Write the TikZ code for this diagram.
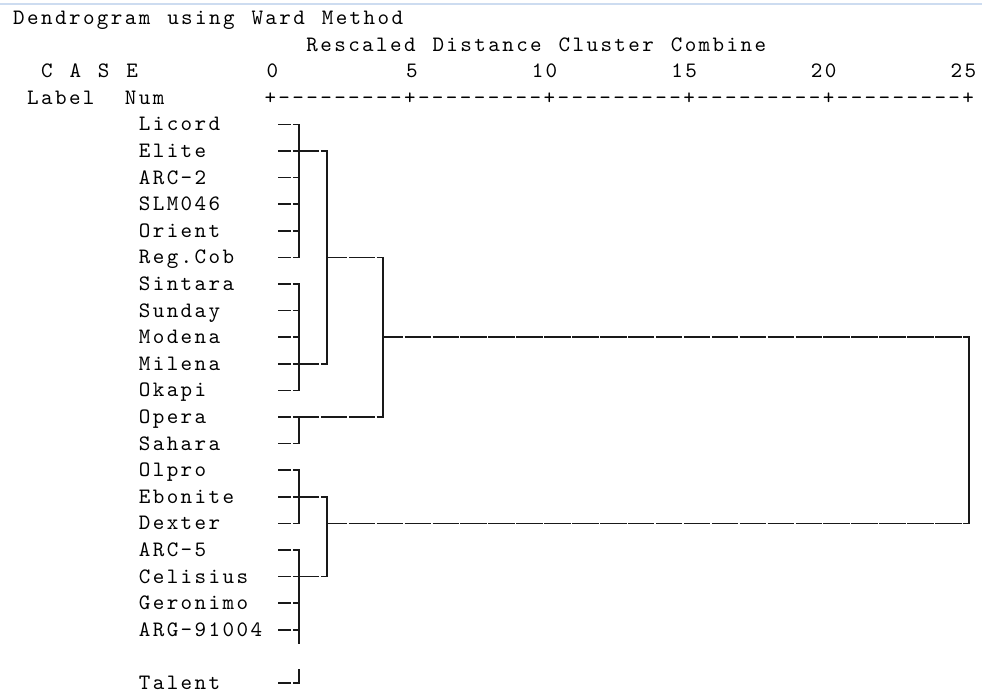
\documentclass[tikz,border=0pt]{standalone}
\usepackage{fontspec}
\newfontfamily\spssfont{lmmono10-regular.otf}[LetterSpace=10.95,WordSpace=1.2087]
\usetikzlibrary{positioning}

\begin{document}
\begin{tikzpicture}[
	x=13.96pt,y=-26.6pt,
	txt/.style={anchor=west,inner sep=0pt,text height=13pt,text depth=0pt,
		font=\spssfont\fontsize{22}{26.6}\selectfont},
	num/.style={txt,anchor=east},
	link/.style={draw=black!90,line width=1.6pt,line cap=rect},
	hlink/.style={draw=black!90,line width=1.6pt,dash pattern=on 26.42pt off 1.5pt,dash phase=6.23pt},
	stub/.style={hlink,dash phase=13.21pt}
	]
		\useasboundingbox (-1.4327,-0.6767) rectangle (68.911,25.414);
		\draw[color={rgb,255:red,205;green,220;blue,240},line width=1.5pt] (-1.4327,-0.53) -- (68.911,-0.53);
		
		% header
		\path (-0.5,0) node[txt] (title) {Dendrogram using Ward Method};
		\path (20.5,1) node[txt] (scale) {Rescaled Distance Cluster Combine};
		\path (1.5,2) node[txt] (case) {C A S E};
		\path (18.5,2) node[num] (n0) {0};
		\path (28.5,2) node[num] (n5) {5};
		\path (38.5,2) node[num] (n10) {10};
		\path (48.5,2) node[num] (n15) {15};
		\path (58.5,2) node[num] (n20) {20};
		\path (68.5,2) node[num] (n25) {25};
		\path (0.5,3) node[txt] (label) {Label};
		\path (7.5,3) node[txt] (num) {Num};
		\path (17.5,3) node[txt] (axis) {+---------+---------+---------+---------+---------+};
		
		% cases
		\path (8.5,4) node[txt] (licord) {Licord};
		\path (8.5,5) node[txt] (elite) {Elite};
		\path (8.5,6) node[txt] (arc2) {ARC-2};
		\path (8.5,7) node[txt] (slm) {SLM046};
		\path (8.5,8) node[txt] (orient) {Orient};
		\path (8.5,9) node[txt] (regcob) {Reg.Cob};
		\path (8.5,10) node[txt] (sintara) {Sintara};
		\path (8.5,11) node[txt] (sunday) {Sunday};
		\path (8.5,12) node[txt] (modena) {Modena};
		\path (8.5,13) node[txt] (milena) {Milena};
		\path (8.5,14) node[txt] (okapi) {Okapi};
		\path (8.5,15) node[txt] (opera) {Opera};
		\path (8.5,16) node[txt] (sahara) {Sahara};
		\path (8.5,17) node[txt] (olpro) {Olpro};
		\path (8.5,18) node[txt] (ebonite) {Ebonite};
		\path (8.5,19) node[txt] (dexter) {Dexter};
		\path (8.5,20) node[txt] (arc5) {ARC-5};
		\path (8.5,21) node[txt] (celisius) {Celisius};
		\path (8.5,22) node[txt] (geronimo) {Geronimo};
		\path (8.5,23) node[txt] (arg) {ARG-91004};
		\path (8.5,25) node[txt] (talent) {Talent};
		
		\coordinate (s) at (18.5,0);
		\coordinate (j) at (20,0);
		\coordinate (ab) at (22,0);
		\coordinate (abc) at (26,0);
		\coordinate (root) at (68,0);
		\coordinate (gap1) at (20,23.5);
		\coordinate (gap2) at (20,24.5);
		
		% leaf stubs
		\draw[stub] (licord -| s) -- (licord -| j);
		\draw[stub] (elite -| s) -- (elite -| j);
		\draw[stub] (arc2 -| s) -- (arc2 -| j);
		\draw[stub] (slm -| s) -- (slm -| j);
		\draw[stub] (orient -| s) -- (orient -| j);
		\draw[stub] (regcob -| s) -- (regcob -| j);
		\draw[stub] (sintara -| s) -- (sintara -| j);
		\draw[stub] (sunday -| s) -- (sunday -| j);
		\draw[stub] (modena -| s) -- (modena -| j);
		\draw[stub] (milena -| s) -- (milena -| j);
		\draw[stub] (okapi -| s) -- (okapi -| j);
		\draw[stub] (opera -| s) -- (opera -| j);
		\draw[stub] (sahara -| s) -- (sahara -| j);
		\draw[stub] (olpro -| s) -- (olpro -| j);
		\draw[stub] (ebonite -| s) -- (ebonite -| j);
		\draw[stub] (dexter -| s) -- (dexter -| j);
		\draw[stub] (arc5 -| s) -- (arc5 -| j);
		\draw[stub] (celisius -| s) -- (celisius -| j);
		\draw[stub] (geronimo -| s) -- (geronimo -| j);
		\draw[stub] (arg -| s) -- (arg -| j);
		\draw[stub] (talent -| s) -- (talent -| j);
		
		% first level
		\draw[link] (licord -| j) -- (regcob -| j);
		\draw[link] (sintara -| j) -- (okapi -| j);
		\draw[link] (opera -| j) -- (sahara -| j);
		\draw[link] (olpro -| j) -- (dexter -| j);
		\draw[link] (arc5 -| j) -- (gap1);
		\draw[link] (gap2) -- (talent -| j);
		
		% upper levels
		\draw[hlink] (elite -| j) -- (elite -| ab);
		\draw[hlink] (milena -| j) -- (milena -| ab);
		\draw[link] (elite -| ab) -- (milena -| ab);
		\draw[hlink] (regcob -| ab) -- (regcob -| abc);
		\draw[hlink] (opera -| j) -- (opera -| abc);
		\draw[link] (regcob -| abc) -- (opera -| abc);
		\draw[hlink] (ebonite -| j) -- (ebonite -| ab);
		\draw[hlink] (celisius -| j) -- (celisius -| ab);
		\draw[link] (ebonite -| ab) -- (celisius -| ab);
		\draw[hlink] (modena -| abc) -- (modena -| root);
		\draw[hlink] (dexter -| ab) -- (dexter -| root);
		\draw[link] (modena -| root) -- (dexter -| root);
		
	\end{tikzpicture}
\end{document}
